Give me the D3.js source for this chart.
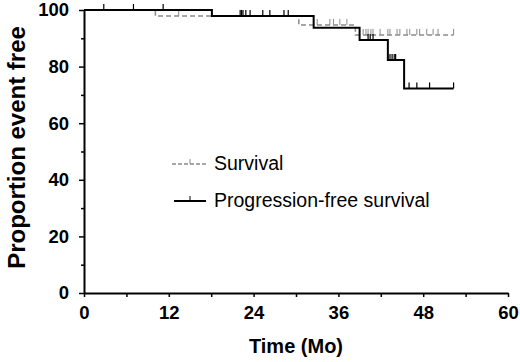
<!DOCTYPE html>
<html>
<head>
<meta charset="utf-8">
<script src="https://cdn.jsdelivr.net/npm/d3@7"></script>
<style>
  body { margin: 0; background: #fff; }
  svg { display: block; font-family: "Liberation Sans", Arial, sans-serif; }
</style>
</head>
<body>
<div id="chart"></div>
<script>
// Kaplan-Meier steps (months, percent)
var osStepTimes = [0, 10.1, 30.4, 38.4];
var osStepValues = [100, 97.9, 94.7, 91.2];
var osEnd = 52.3;
var osCensor = [13.4, 33.0, 34.8, 35.3, 36.2, 37.2, 39.5, 39.9, 40.2, 40.6, 40.9,
    41.9, 43.0, 43.3, 44.3, 44.7, 45.7, 46.1, 47.1, 47.5, 48.5, 49.4, 50.1, 52.3];

var pfsStepTimes = [0, 18.1, 32.5, 39.0, 43.0, 45.3];
var pfsStepValues = [100, 97.9, 93.7, 89.4, 82.3, 72.3];
var pfsEnd = 52.3;
var pfsCensor = [2.8, 7.0, 11.2, 22.1, 22.3, 22.5, 22.9, 23.5, 25.3, 26.3, 28.3, 28.9,
    40.2, 40.5, 40.9, 43.3, 43.6, 43.9, 44.1, 46.0, 47.1, 48.9, 52.3];

var xTicks = d3.range(0, 61, 6);
var yTicks = d3.range(0, 101, 10);
var legendLabels = ["Survival", "Progression-free survival"];

var width = 520, height = 362;

var svg = d3.select("#chart")
    .append("svg")
        .attr("width", width)
        .attr("height", height);

var x = d3.scaleLinear().domain([0, 60]).range([84, 508]);
var y = d3.scaleLinear().domain([0, 100]).range([293, 10]);

// x axis
var xAxis = svg.append("g")
    .attr("transform", "translate(0," + y(0) + ")")
    .call(d3.axisBottom(x)
        .tickValues(xTicks)
        .tickSize(4)
        .tickSizeOuter(0)
        .tickPadding(9)
        .tickFormat(function(d){ return d % 12 === 0 ? d : ""; }));

// y axis
var yAxis = svg.append("g")
    .attr("transform", "translate(" + x(0) + ",0)")
    .call(d3.axisLeft(y)
        .tickValues(yTicks)
        .tickSize(5)
        .tickSizeOuter(0)
        .tickPadding(10)
        .tickFormat(function(d){ return d % 20 === 0 ? d : ""; }));

yAxis.selectAll(".tick line")
    .attr("x2", function(d){ return d % 20 === 0 ? -5 : -3; });

[xAxis, yAxis].forEach(function(a){
    a.select(".domain").attr("stroke", "#000").attr("stroke-width", 2);
    a.selectAll(".tick line").attr("stroke", "#000").attr("stroke-width", 1.5);
    a.selectAll(".tick text")
        .attr("fill", "#000")
        .attr("font-family", "Liberation Sans, Arial, sans-serif")
        .attr("font-size", 18.5)
        .attr("font-weight", "bold");
});

// axis titles
svg.append("text")
    .attr("x", (x(0) + x(60)) / 2)
    .attr("y", 353)
    .attr("text-anchor", "middle")
    .attr("font-size", 20)
    .attr("font-weight", "bold")
    .text("Time (Mo)");

svg.append("text")
    .attr("transform", "translate(25," + ((y(0) + y(100)) / 2 - 4) + ") rotate(-90)")
    .attr("text-anchor", "middle")
    .attr("font-size", 24)
    .attr("font-weight", "bold")
    .text("Proportion event free");

function stepPoints(times, values, end){
    var pts = [];
    times.forEach(function(t, i){
        pts.push([t, values[i]]);
    });
    pts.push([end, values[values.length - 1]]);
    return pts;
}

function valueAt(times, values, t){
    var v = values[0];
    times.forEach(function(s, i){ if (t >= s) v = values[i]; });
    return v;
}

var line = d3.line()
    .x(function(d){ return x(d[0]); })
    .y(function(d){ return y(d[1]); })
    .curve(d3.curveStepAfter);

var tickLen = 6;

// survival (grey dashed)
svg.append("path")
    .datum(stepPoints(osStepTimes, osStepValues, osEnd))
    .attr("fill", "none")
    .attr("stroke", "#8a8a8a")
    .attr("stroke-width", 1.5)
    .attr("stroke-dasharray", "5,3")
    .attr("d", line);

svg.append("g").selectAll("line")
    .data(osCensor)
    .enter()
    .append("line")
        .attr("x1", function(d){ return x(d); })
        .attr("x2", function(d){ return x(d); })
        .attr("y1", function(d){ return y(valueAt(osStepTimes, osStepValues, d)); })
        .attr("y2", function(d){ return y(valueAt(osStepTimes, osStepValues, d)) - tickLen; })
        .attr("stroke", "#8a8a8a")
        .attr("stroke-width", 1);

// progression-free survival (black solid)
svg.append("path")
    .datum(stepPoints(pfsStepTimes, pfsStepValues, pfsEnd))
    .attr("fill", "none")
    .attr("stroke", "#000")
    .attr("stroke-width", 2)
    .attr("d", line);

svg.append("g").selectAll("line")
    .data(pfsCensor)
    .enter()
    .append("line")
        .attr("x1", function(d){ return x(d); })
        .attr("x2", function(d){ return x(d); })
        .attr("y1", function(d){ return y(valueAt(pfsStepTimes, pfsStepValues, d)); })
        .attr("y2", function(d){ return y(valueAt(pfsStepTimes, pfsStepValues, d)) - tickLen; })
        .attr("stroke", "#000")
        .attr("stroke-width", 1.2);

// legend
var legend = svg.append("g");
var legendRows = [
    { label: legendLabels[0], y: 164, color: "#8a8a8a", dash: "4,2", sw: 1.5, x1: 172, x2: 207 },
    { label: legendLabels[1], y: 201, color: "#000", dash: null, sw: 2, x1: 174, x2: 206 }
];

legendRows.forEach(function(d){
    legend.append("line")
        .attr("x1", d.x1).attr("x2", d.x2)
        .attr("y1", d.y).attr("y2", d.y)
        .attr("stroke", d.color)
        .attr("stroke-width", d.sw)
        .attr("stroke-dasharray", d.dash);
    legend.append("line")
        .attr("x1", 190).attr("x2", 190)
        .attr("y1", d.y).attr("y2", d.y - 5)
        .attr("stroke", d.color)
        .attr("stroke-width", 1);
    legend.append("text")
        .attr("x", 214)
        .attr("y", d.y + 6)
        .attr("font-size", 19.5)
        .attr("fill", "#000")
        .text(d.label);
});
</script>
</body>
</html>
